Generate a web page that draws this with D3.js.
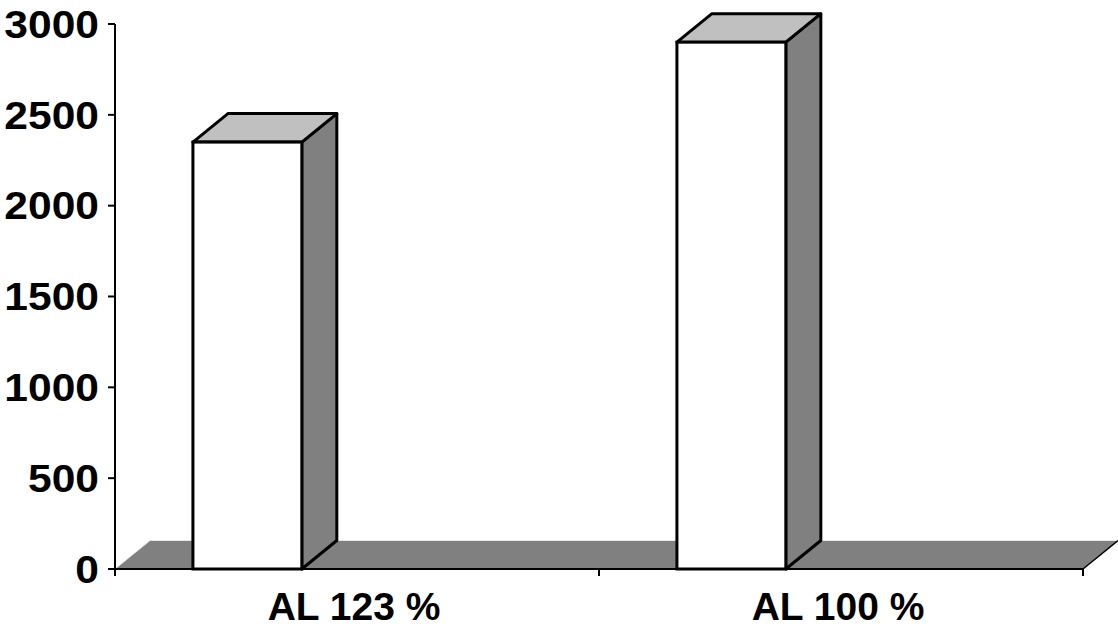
<!DOCTYPE html>
<html>
<head>
<meta charset="utf-8">
<script src="https://cdn.jsdelivr.net/npm/d3@7"></script>
<style>
  html, body { margin: 0; padding: 0; background: #fff; }
  svg { display: block; }
  text { font-family: Arial, "Liberation Sans", sans-serif; font-weight: bold; fill: #000; }
</style>
</head>
<body>
<svg id="chart" width="1118" height="629"></svg>
<script>
// Chart data
const categories = ["AL 123 %", "AL 100 %"];
const values = [2350, 2900];
const yTicks = [0, 500, 1000, 1500, 2000, 2500, 3000];

const W = 1118, H = 629;
const plot = { left: 115, right: 1083, top: 24, bottom: 569 };
const depth = { dx: 35, dy: -28.5 };

const svg = d3.select("#chart");

const x = d3.scaleBand().domain(categories).range([plot.left, plot.right]);
const y = d3.scaleLinear().domain([0, 3000]).range([plot.bottom, plot.top]);

const bw = x.bandwidth();
const barOffset = bw * 0.161;
const barWidth = bw * 0.225;

// Floor of the 3D plot
const y0 = y(0);
svg.append("path")
  .attr("d", `M${plot.left},${y0} L${plot.right},${y0} L${plot.right + depth.dx},${y0 + depth.dy} L${plot.left + depth.dx},${y0 + depth.dy} Z`)
  .attr("fill", "#808080")
  .attr("stroke", "none");
svg.append("path")
  .attr("d", `M${plot.left},${y0} L${plot.left + depth.dx},${y0 + depth.dy} L${plot.right + depth.dx},${y0 + depth.dy}`)
  .attr("fill", "none").attr("stroke", "#e8e8e8").attr("stroke-width", 1);
svg.append("line")
  .attr("x1", plot.right).attr("y1", y0)
  .attr("x2", plot.right + depth.dx).attr("y2", y0 + depth.dy)
  .attr("stroke", "#000").attr("stroke-width", 1.5);

// Y axis
const yAxis = svg.append("g");
yAxis.append("line")
  .attr("x1", plot.left).attr("x2", plot.left)
  .attr("y1", plot.top).attr("y2", plot.bottom + 6)
  .attr("stroke", "#000").attr("stroke-width", 2);
yAxis.selectAll("line.tick").data(yTicks).enter().append("line")
  .attr("class", "tick")
  .attr("x1", plot.left - 7).attr("x2", plot.left)
  .attr("y1", d => y(d)).attr("y2", d => y(d))
  .attr("stroke", "#000").attr("stroke-width", 2);
yAxis.selectAll("text").data(yTicks).enter().append("text")
  .attr("transform", d => `translate(99,${y(d)}) scale(1.12,1)`)
  .attr("dy", "0.36em")
  .attr("text-anchor", "end")
  .attr("font-size", 38)
  .text(d => d);

// Bars: front, top and side faces
const bars = svg.append("g").selectAll("g").data(categories.map((c, i) => ({ c, v: values[i] }))).enter().append("g");
bars.each(function(d) {
  const g = d3.select(this);
  const x0 = x(d.c) + barOffset, x1 = x0 + barWidth;
  const yt = y(d.v), yb = y(0);
  const { dx, dy } = depth;
  g.append("path")
    .attr("d", `M${x1},${yb} L${x1 + dx},${yb + dy} L${x1 + dx},${yt + dy} L${x1},${yt} Z`)
    .attr("fill", "#808080").attr("stroke", "#000").attr("stroke-width", 3).attr("stroke-linejoin", "round");
  g.append("path")
    .attr("d", `M${x0},${yt} L${x0 + dx},${yt + dy} L${x1 + dx},${yt + dy} L${x1},${yt} Z`)
    .attr("fill", "#c0c0c0").attr("stroke", "#000").attr("stroke-width", 3).attr("stroke-linejoin", "round");
  g.append("rect")
    .attr("x", x0).attr("y", yt)
    .attr("width", barWidth).attr("height", yb - yt)
    .attr("fill", "#fff").attr("stroke", "#000").attr("stroke-width", 3);
});

// X axis
const xAxis = svg.append("g");
xAxis.append("line")
  .attr("x1", plot.left - 7).attr("x2", plot.right)
  .attr("y1", y0).attr("y2", y0)
  .attr("stroke", "#000").attr("stroke-width", 2);
const xTickPos = [plot.left, ...categories.slice(1).map(c => x(c)), plot.right];
xAxis.selectAll("line.tick").data(xTickPos).enter().append("line")
  .attr("class", "tick")
  .attr("x1", d => d).attr("x2", d => d)
  .attr("y1", y0).attr("y2", y0 + 7)
  .attr("stroke", "#000").attr("stroke-width", 2);
xAxis.selectAll("text").data(categories).enter().append("text")
  .attr("x", d => x(d) + bw / 2 - 3)
  .attr("y", 620)
  .attr("text-anchor", "middle")
  .attr("font-size", 39)
  .text(d => d);
</script>
</body>
</html>
